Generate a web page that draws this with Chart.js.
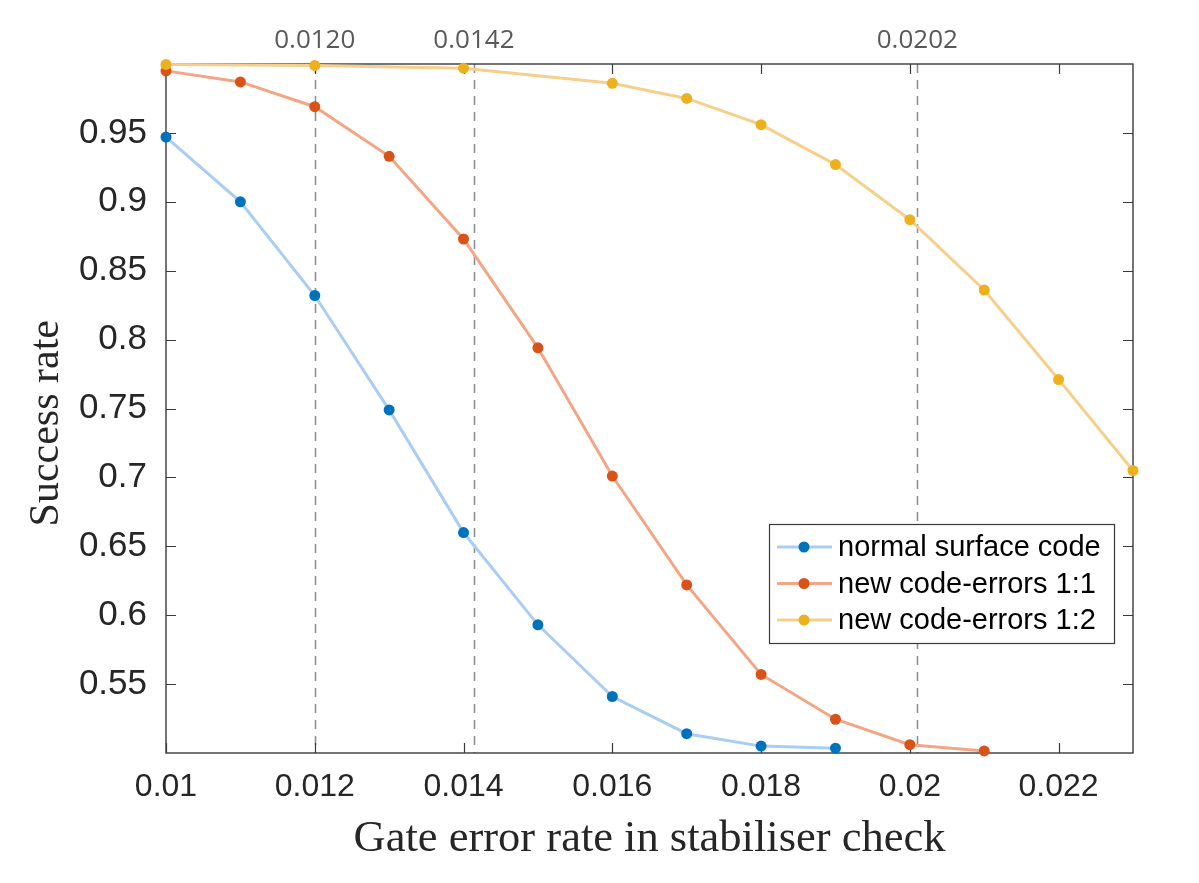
<!DOCTYPE html>
<html>
<head>
<meta charset="utf-8">
<script src="https://cdn.jsdelivr.net/npm/chart.js@4.4.1/dist/chart.umd.min.js"></script>
<style>
  html, body { margin: 0; padding: 0; background: #ffffff; }
  #wrap { width: 1199px; height: 883px; position: relative; }
</style>
</head>
<body>
<div id="wrap"><canvas id="c" width="1199" height="883"></canvas></div>
<script>
// ---- data ----
const seriesLabels = ['normal surface code', 'new code-errors 1:1', 'new code-errors 1:2'];
const xBlue = [0.010, 0.011, 0.012, 0.013, 0.014, 0.015, 0.016, 0.017, 0.018, 0.019];
const yBlue = [0.947, 0.900, 0.832, 0.749, 0.660, 0.593, 0.541, 0.514, 0.505, 0.5035];
const xRed = [0.010, 0.011, 0.012, 0.013, 0.014, 0.015, 0.016, 0.017, 0.018, 0.019, 0.020, 0.021];
const yRed = [0.995, 0.987, 0.969, 0.933, 0.873, 0.794, 0.701, 0.622, 0.557, 0.5245, 0.506, 0.5015];
const xYellow = [0.010, 0.012, 0.014, 0.016, 0.017, 0.018, 0.019, 0.020, 0.021, 0.022, 0.023];
const yYellow = [0.9997, 0.999, 0.997, 0.986, 0.975, 0.956, 0.927, 0.887, 0.836, 0.771, 0.705];
const xTickValues = [0.010, 0.012, 0.014, 0.016, 0.018, 0.020, 0.022];
const xTickLabels = ['0.01', '0.012', '0.014', '0.016', '0.018', '0.02', '0.022'];
const yTickValues = [0.55, 0.60, 0.65, 0.70, 0.75, 0.80, 0.85, 0.90, 0.95];
const yTickLabels = ['0.55', '0.6', '0.65', '0.7', '0.75', '0.8', '0.85', '0.9', '0.95'];
// dashed marker lines (positions as drawn in the picture) and their labels
const markerValues = [0.0120, 0.01414, 0.02010];
const markerLabels = ['0.0120', '0.0142', '0.0202'];
const xTitle = 'Gate error rate in stabiliser check';
const yTitle = 'Success rate';

const toPoints = (xs, ys) => xs.map((x, i) => ({ x: x, y: ys[i] }));

const axisColor = '#3a3a3a';

const framePlugin = {
  id: 'frame',
  beforeDatasetsDraw(chart) {
    const { ctx, chartArea: a, scales } = chart;
    const x = scales.x, y = scales.y;
    ctx.save();
    // dashed threshold lines
    ctx.strokeStyle = '#909090';
    ctx.lineWidth = 1.6;
    ctx.setLineDash([9, 7]);
    markerValues.forEach(v => {
      const px = Math.round(x.getPixelForValue(v)) + 0.5;
      ctx.beginPath();
      ctx.moveTo(px, a.top);
      ctx.lineTo(px, a.bottom);
      ctx.stroke();
    });
    ctx.setLineDash([]);
    // axis box
    ctx.strokeStyle = axisColor;
    ctx.lineWidth = 1.4;
    ctx.strokeRect(a.left, a.top, a.right - a.left, a.bottom - a.top);
    // inward ticks
    const tl = 10;
    ctx.lineWidth = 1.2;
    ctx.beginPath();
    xTickValues.forEach(v => {
      const px = Math.round(x.getPixelForValue(v)) + 0.5;
      ctx.moveTo(px, a.bottom); ctx.lineTo(px, a.bottom - tl);
      ctx.moveTo(px, a.top); ctx.lineTo(px, a.top + tl);
    });
    yTickValues.forEach(v => {
      const py = Math.round(y.getPixelForValue(v)) + 0.5;
      ctx.moveTo(a.left, py); ctx.lineTo(a.left + tl, py);
      ctx.moveTo(a.right, py); ctx.lineTo(a.right - tl, py);
    });
    ctx.stroke();
    ctx.restore();
  },
  afterDatasetsDraw(chart) {
    const { ctx, chartArea: a } = chart;
    const w = 345, h = 119;
    const lx = a.right - 19 - w, ly = a.top + 460;
    ctx.save();
    ctx.fillStyle = '#ffffff';
    ctx.fillRect(lx, ly, w, h);
    ctx.strokeStyle = axisColor;
    ctx.lineWidth = 1.2;
    ctx.strokeRect(lx + 0.5, ly + 0.5, w, h);
    const rows = [23, 59.5, 96];
    chart.data.datasets.forEach((ds, i) => {
      const ry = ly + rows[i];
      ctx.strokeStyle = ds.borderColor;
      ctx.lineWidth = 3;
      ctx.beginPath();
      ctx.moveTo(lx + 8, ry);
      ctx.lineTo(lx + 63, ry);
      ctx.stroke();
      ctx.fillStyle = ds.pointBackgroundColor;
      ctx.beginPath();
      ctx.arc(lx + 35, ry, 5.5, 0, Math.PI * 2);
      ctx.fill();
      ctx.fillStyle = '#000000';
      ctx.font = '29px "Liberation Sans"';
      ctx.textBaseline = 'middle';
      ctx.textAlign = 'left';
      ctx.fillText(ds.label, lx + 69, ry + 1);
    });
    ctx.restore();
  }
};

new Chart(document.getElementById('c'), {
  type: 'line',
  data: {
    datasets: [
      { label: seriesLabels[0], data: toPoints(xBlue, yBlue), borderColor: '#a9cdf3', backgroundColor: '#0072bd',
        pointBackgroundColor: '#0072bd', pointBorderWidth: 0, pointRadius: 5.5, borderWidth: 3, order: 2, clip: false },
      { label: seriesLabels[1], data: toPoints(xRed, yRed), borderColor: '#f3a686', backgroundColor: '#d95319',
        pointBackgroundColor: '#d95319', pointBorderWidth: 0, pointRadius: 5.5, borderWidth: 3, order: 1, clip: false },
      { label: seriesLabels[2], data: toPoints(xYellow, yYellow), borderColor: '#f5d08c', backgroundColor: '#edb120',
        pointBackgroundColor: '#edb120', pointBorderWidth: 0, pointRadius: 5.5, borderWidth: 3, order: 0, clip: false }
    ]
  },
  options: {
    responsive: false,
    animation: false,
    devicePixelRatio: 1,
    layout: { padding: { left: 0, right: 66, top: 0, bottom: 0 } },
    plugins: { legend: { display: false }, tooltip: { enabled: false } },
    elements: { line: { tension: 0 } },
    scales: {
      x: {
        type: 'linear', position: 'bottom', min: 0.01, max: 0.023,
        afterBuildTicks: s => { s.ticks = xTickValues.map(v => ({ value: v })); },
        afterFit: s => { s.height = 130; },
        ticks: { callback: (v, i) => xTickLabels[i], font: { family: 'Liberation Sans', size: 32 }, color: '#262626', padding: 15, maxRotation: 0, autoSkip: false },
        grid: { display: false, drawTicks: false },
        border: { display: false },
        title: { display: true, text: xTitle, font: { family: 'Liberation Serif', size: 44.5 }, color: '#262626', padding: { top: 0, bottom: 17 } }
      },
      xTop: {
        type: 'linear', position: 'top', min: 0.01, max: 0.023,
        afterBuildTicks: s => { s.ticks = markerValues.map(v => ({ value: v })); },
        afterFit: s => { s.height = 64; },
        ticks: { callback: (v, i) => markerLabels[i], font: { family: 'Open Sans', size: 26 }, color: '#595959', padding: 8, maxRotation: 0, autoSkip: false },
        grid: { display: false, drawTicks: false },
        border: { display: false }
      },
      y: {
        type: 'linear', position: 'left', min: 0.5, max: 1.0,
        afterBuildTicks: s => { s.ticks = yTickValues.map(v => ({ value: v })); },
        afterFit: s => { s.width = 166; },
        ticks: { callback: (v, i) => yTickLabels[i], font: { family: 'Liberation Sans', size: 35 }, color: '#262626', padding: 19, autoSkip: false },
        grid: { display: false, drawTicks: false },
        border: { display: false },
        title: { display: true, text: yTitle + '\u2002\u2009', font: { family: 'Liberation Serif', size: 42 }, color: '#262626', padding: { top: 22, bottom: 0 } }
      }
    }
  },
  plugins: [framePlugin]
});
</script>
</body>
</html>
